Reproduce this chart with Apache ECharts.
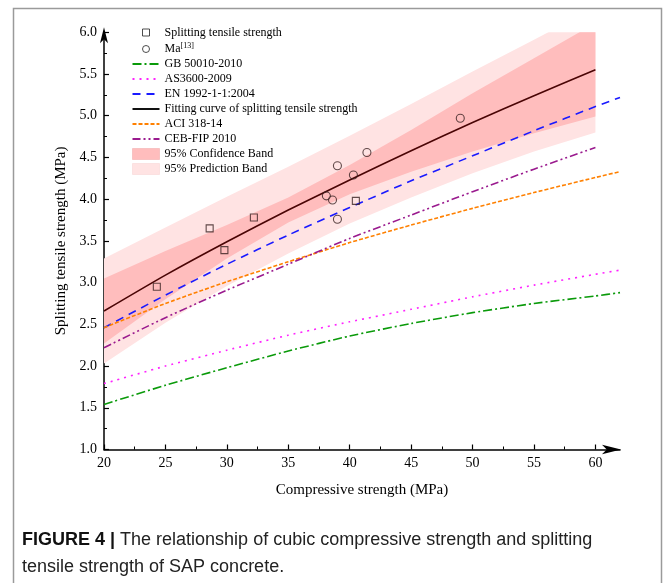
<!DOCTYPE html>
<html><head><meta charset="utf-8">
<script src="https://cdn.jsdelivr.net/npm/echarts@6/dist/echarts.min.js"></script>
<style>html,body{margin:0;padding:0;background:#fff}#c{width:665px;height:583px}</style>
</head><body><div id="c"></div>
<script>
// ---- data ----
const splitX = [24.3, 28.6, 29.8, 32.2, 40.5];
const splitY = [2.95, 3.65, 3.39, 3.78, 3.98];
const maX = [38.1, 38.6, 39.0, 40.3, 41.4, 39.0, 49.0];
const maY = [4.04, 3.99, 4.40, 4.29, 4.56, 3.76, 4.97];

const codeX = [20, 25, 30, 35, 40, 45, 50, 55, 60, 62];
const gbY  = [1.54, 1.77, 1.98, 2.18, 2.36, 2.51, 2.64, 2.75, 2.84, 2.88];
const asY  = [1.79, 2.00, 2.19, 2.37, 2.53, 2.68, 2.83, 2.97, 3.10, 3.15];
const enY  = [2.46, 2.85, 3.22, 3.57, 3.90, 4.22, 4.52, 4.82, 5.11, 5.22];
const aciY = [2.46, 2.75, 3.01, 3.25, 3.48, 3.69, 3.89, 4.08, 4.26, 4.33];

const fitX = [20, 25, 30, 35, 40, 45, 50, 55, 60];
const cebY = [2.22, 2.58, 2.91, 3.22, 3.53, 3.81, 4.09, 4.36, 4.62];
const fitY = [2.66, 3.09, 3.49, 3.87, 4.23, 4.58, 4.92, 5.24, 5.55];
const confLow = [2.27, 2.80, 3.29, 3.72, 4.06, 4.33, 4.57, 4.79, 4.99];
const confUp  = [3.05, 3.38, 3.69, 4.02, 4.41, 4.83, 5.27, 5.69, 6.11];
const predLow = [2.03, 2.52, 2.96, 3.35, 3.71, 4.02, 4.31, 4.57, 4.80];
const predUp  = [3.29, 3.66, 4.03, 4.39, 4.76, 5.14, 5.53, 5.91, 6.30];

const xTicks = [20, 25, 30, 35, 40, 45, 50, 55, 60];
const xMinorTicks = [22.5, 27.5, 32.5, 37.5, 42.5, 47.5, 52.5, 57.5];

const names = {
  split: 'Splitting tensile strength', ma: 'Ma',
  gb: 'GB 50010-2010', as: 'AS3600-2009', en: 'EN 1992-1-1:2004',
  fit: 'Fitting curve of splitting tensile strength', aci: 'ACI 318-14',
  ceb: 'CEB-FIP 2010', conf: '95% Confidence Band', pred: '95% Prediction Band'
};

// ---- build ----
const pairs = (xs, ys) => xs.map((x, i) => [x, ys[i]]);
const SERIF = 'Liberation Serif';

function curve(name, xs, ys, color, dash, z) {
  return { name, type: 'line', data: pairs(xs, ys), symbol: 'none', smooth: 0.2, z: z || 5,
    lineStyle: { color, width: 1.6, type: dash }, itemStyle: { color } };
}
// band drawn as one polygon between lower and upper curves, mapped through the axes
function band(name, xs, lo, up, color, z) {
  return {
    name, type: 'custom', coordinateSystem: 'cartesian2d', clip: true, z, silent: true,
    itemStyle: { color },
    data: xs.map((x, i) => [x, lo[i], up[i]]),
    encode: { x: 0, y: [1, 2] },
    renderItem: (params, api) => {
      if (params.dataIndex !== 0) return null;
      const pts = [];
      for (let i = 0; i < xs.length; i++) pts.push(api.coord([xs[i], lo[i]]));
      for (let i = xs.length - 1; i >= 0; i--) pts.push(api.coord([xs[i], up[i]]));
      return { type: 'polygon', shape: { points: pts }, style: { fill: color } };
    }
  };
}

const series = [
  band(names.pred, fitX, predLow, predUp, '#FFE3E3', 1),
  band(names.conf, fitX, confLow, confUp, '#FFBDBD', 2),
  curve(names.gb, codeX, gbY, '#0A9A0A', [9, 3, 2, 3]),
  curve(names.as, codeX, asY, '#FF22FF', [2, 5]),
  curve(names.en, codeX, enY, '#1A1AFF', [8, 6]),
  curve(names.fit, fitX, fitY, '#4A0505', 'solid', 6),
  curve(names.aci, codeX, aciY, '#FF8000', [4, 2]),
  curve(names.ceb, fitX, cebY, '#9A1A8E', [8, 3, 2, 3, 2, 3]),
  { name: names.split, type: 'scatter', data: pairs(splitX, splitY), symbol: 'rect', symbolSize: 7, z: 8,
    itemStyle: { color: 'rgba(0,0,0,0)', borderColor: '#3a2222', borderWidth: 1.1 } },
  { name: names.ma, type: 'scatter', data: pairs(maX, maY), symbol: 'circle', symbolSize: 8, z: 8,
    itemStyle: { color: 'rgba(0,0,0,0)', borderColor: '#3a2222', borderWidth: 1.1 } }
];

const hide = { opacity: 0 };
const legendData = [
  { name: names.split, icon: 'path://M0,0M27,11M10,2h7v7h-7z',
    itemStyle: { color: 'rgba(0,0,0,0)', borderColor: '#222', borderWidth: 1 } },
  { name: names.ma, icon: 'path://M0,0M27,11M17,5.5a3.5,3.5 0 1,1 -7,0a3.5,3.5 0 1,1 7,0z',
    itemStyle: { color: 'rgba(0,0,0,0)', borderColor: '#222', borderWidth: 1 } },
  { name: names.gb, itemStyle: hide },
  { name: names.as, itemStyle: hide },
  { name: names.en, itemStyle: hide },
  { name: names.fit, itemStyle: hide, lineStyle: { color: '#111' } },
  { name: names.aci, itemStyle: hide },
  { name: names.ceb, itemStyle: hide },
  { name: names.conf, icon: 'rect', itemStyle: { color: '#FFBDBD', borderColor: '#F4AFAF', borderWidth: 0.6 } },
  { name: names.pred, icon: 'rect', itemStyle: { color: '#FFE3E3', borderColor: '#F8D6D6', borderWidth: 0.6 } }
];

const axisText = { color: '#000', fontFamily: SERIF, fontSize: 14 };

const option = {
  animation: false,
  backgroundColor: '#fff',
  grid: { left: 104, right: 45, top: 32.3, bottom: 133.5, containLabel: false },
  legend: {
    data: legendData, orient: 'vertical', left: 131.5, top: 26.5, padding: 0,
    itemWidth: 27, itemHeight: 11, itemGap: 3.0, selectedMode: false,
    formatter: n => n === names.ma ? 'Ma{sup|[13]}' : n,
    textStyle: { color: '#000', fontFamily: SERIF, fontSize: 12,
      rich: { sup: { fontFamily: SERIF, fontSize: 8, color: '#000', verticalAlign: 'bottom', padding: [0, 0, 7, 0] } } }
  },
  xAxis: [
    { type: 'value', min: 20, max: 62,
      name: 'Compressive strength (MPa)', nameLocation: 'middle', nameGap: 33,
      nameTextStyle: { color: '#000', fontFamily: SERIF, fontSize: 15 },
      axisLine: { show: true, onZero: false, symbol: ['none', 'arrow'], symbolSize: [7, 19], symbolOffset: [0, 1],
        lineStyle: { color: '#000', width: 1.5 } },
      axisTick: { show: true, inside: true, length: 5, customValues: xTicks, lineStyle: { color: '#000', width: 1.2 } },
      axisLabel: Object.assign({ customValues: xTicks, margin: 7 }, axisText),
      splitLine: { show: false } },
    { type: 'value', min: 20, max: 62, position: 'bottom', gridIndex: 0,
      axisLine: { show: false }, axisLabel: { show: false }, splitLine: { show: false },
      axisTick: { show: true, inside: true, length: 3, customValues: xMinorTicks, lineStyle: { color: '#000', width: 1 } } }
  ],
  yAxis: {
    type: 'value', min: 1, max: 6, interval: 0.5,
    name: 'Splitting tensile strength (MPa)', nameLocation: 'middle', nameGap: 33,
    nameTextStyle: { color: '#000', fontFamily: SERIF, fontSize: 15 },
    axisLine: { show: true, onZero: false, symbol: ['none', 'arrow'], symbolSize: [6, 16], symbolOffset: [0, 5],
      lineStyle: { color: '#000', width: 1.5 } },
    axisTick: { show: true, inside: true, length: 5, lineStyle: { color: '#000', width: 1.2 } },
    minorTick: { show: true, splitNumber: 2, length: 3, lineStyle: { color: '#000', width: 1 } },
    axisLabel: Object.assign({ margin: 7, formatter: v => v.toFixed(1) }, axisText),
    splitLine: { show: false }, minorSplitLine: { show: false }
  },
  graphic: [
    { type: 'rect', shape: { x: 13.5, y: 8.5, width: 648, height: 620 }, silent: true,
      style: { fill: 'none', stroke: '#9a9a9a', lineWidth: 1.5 }, z: -10 },
    { type: 'text', left: 22, top: 531, silent: true,
      style: { text: '{b|FIGURE 4 |} The relationship of cubic compressive strength and splitting',
        fontFamily: 'Liberation Sans', fontSize: 18, fill: '#222',
        rich: { b: { fontFamily: 'Liberation Sans', fontSize: 18, fontWeight: 'bold', fill: '#111' } } } },
    { type: 'text', left: 22, top: 558, silent: true,
      style: { text: 'tensile strength of SAP concrete.', fontFamily: 'Liberation Sans', fontSize: 18, fill: '#222' } }
  ],
  series
};

const chart = echarts.init(document.getElementById('c'), null, { renderer: 'canvas' });
chart.setOption(option);
</script>
</body></html>
